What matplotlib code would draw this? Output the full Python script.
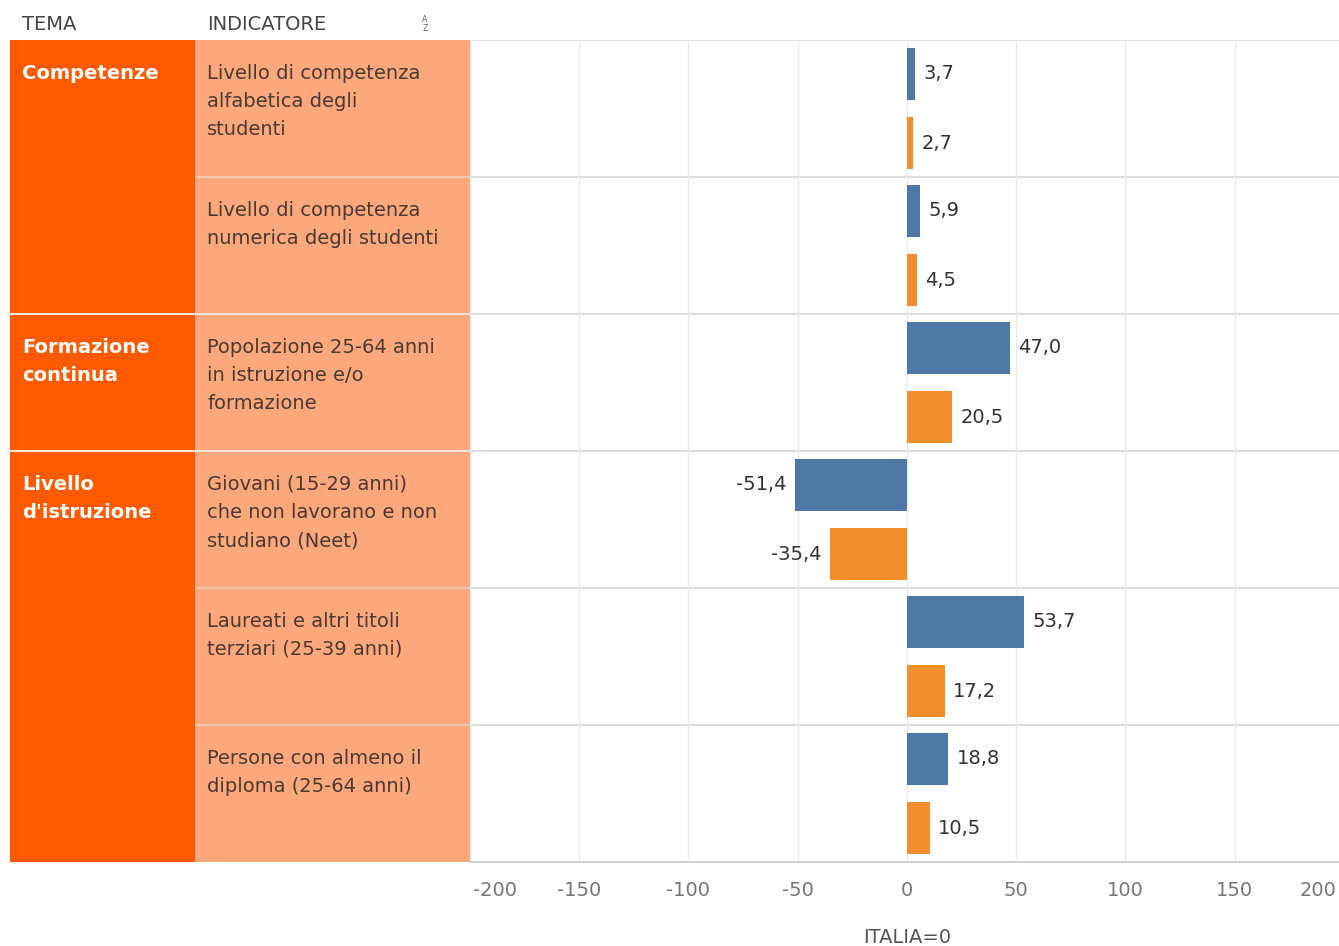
import matplotlib.pyplot as plt
import matplotlib.transforms as mtransforms
import numpy as np

# data
temi = ["Competenze", "Formazione\ncontinua", "Livello\nd'istruzione"]
temi_righe = [2, 1, 3]
indicatori = [
    "Livello di competenza\nalfabetica degli\nstudenti",
    "Livello di competenza\nnumerica degli studenti",
    "Popolazione 25-64 anni\nin istruzione e/o\nformazione",
    "Giovani (15-29 anni)\nche non lavorano e non\nstudiano (Neet)",
    "Laureati e altri titoli\nterziari (25-39 anni)",
    "Persone con almeno il\ndiploma (25-64 anni)",
]
serie_blu = [3.7, 5.9, 47.0, -51.4, 53.7, 18.8]
serie_arancio = [2.7, 4.5, 20.5, -35.4, 17.2, 10.5]
x_ticks = [-200, -150, -100, -50, 0, 50, 100, 150, 200]

BLU = "#4E79A7"
ARANCIO = "#F28E2B"
TEMA_COL = "#FF5A00"
IND_COL = "#FCA77C"
GRIGIO = "#D9D9D9"
FS = 14

W, H = 1339, 946
fig = plt.figure(figsize=(W / 100, H / 100), dpi=100)
plt.rcParams['font.family'] = ['DejaVu Sans']

def px(x0, y0, x1, y1):
    return [x0 / W, 1 - y1 / H, (x1 - x0) / W, (y1 - y0) / H]

n = len(indicatori)
top_off = 0.172

# ---- tabella a sinistra (tema + indicatore)
tab = fig.add_axes(px(10, 40, 470, 862))
tab.set_xlim(0, 460)
tab.set_ylim(n, 0)
tab.axis('off')

start = 0
starts = []
for t, k in zip(temi, temi_righe):
    tab.barh(start, 185, height=k, left=0, align='edge', color=TEMA_COL, lw=0)
    tab.text(12, start + top_off, t, color='white', fontsize=FS, fontweight='bold',
             va='top', ha='left', linespacing=1.62)
    starts.append(start)
    start += k

tab.barh(0, 275, height=n, left=185, align='edge', color=IND_COL, lw=0)
for i, lab in enumerate(indicatori):
    tab.text(197, i + top_off, lab, color='#4a3a30', fontsize=FS, va='top', ha='left',
             linespacing=1.62)
    if i > 0:
        tab.hlines(i, 185, 460, color='#EEC7AE', lw=1.5)
for s in starts[1:]:
    tab.hlines(s, 0, 460, color='#F2E6DC', lw=1.5)

# intestazioni
fig.text(22 / W, 1 - 24 / H, "TEMA", fontsize=FS, color='#444444', va='center')
fig.text(207 / W, 1 - 24 / H, "INDICATORE", fontsize=FS, color='#444444', va='center')
fig.text(425 / W, 1 - 24 / H, "A\nZ", fontsize=5.5, color='#666666', va='center',
         ha='center', linespacing=0.9)

# ---- grafico a barre
ax = fig.add_axes(px(470, 40, 1344, 862))
y = np.arange(n)
bh = 0.38
ax.barh(y + 0.248, serie_blu, height=bh, color=BLU, zorder=3)
ax.barh(y + 0.752, serie_arancio, height=bh, color=ARANCIO, zorder=3)

for yy, vals in [(y + 0.248, serie_blu), (y + 0.752, serie_arancio)]:
    for yi, v in zip(yy, vals):
        lab = f"{v:.1f}".replace('.', ',')
        ax.annotate(lab, (v, yi), xytext=(6 if v >= 0 else -6, 0),
                    textcoords='offset points', ha='left' if v >= 0 else 'right',
                    va='center', fontsize=FS, color='#333333')

ax.set_xlim(-200, 200)
ax.set_ylim(n, 0)
ax.set_xticks(x_ticks)
ax.set_xticklabels([str(t) for t in x_ticks])
ax.set_yticks([])
ax.tick_params(axis='x', length=0, pad=14, labelsize=FS, labelcolor='#777777')
tl = ax.get_xticklabels()
tl[0].set_ha('left')
tl[0].set_transform(tl[0].get_transform() +
                    mtransforms.ScaledTranslation(3 / 100, 0, fig.dpi_scale_trans))
tl[-1].set_ha('right')
tl[-1].set_transform(tl[-1].get_transform() +
                     mtransforms.ScaledTranslation(-7 / 100, 0, fig.dpi_scale_trans))
for side in ['top', 'right', 'left']:
    ax.spines[side].set_visible(False)
ax.grid(axis='x', color='#EBEBEB', lw=1, zorder=0)
for i in range(n):
    ax.axhline(i, color=GRIGIO, lw=1.2, zorder=1)
ax.spines['bottom'].set_color('#C8C8C8')
ax.spines['bottom'].set_linewidth(1.2)
ax.set_xlabel("ITALIA=0", fontsize=FS, color='#555555', labelpad=20)

fig.savefig("out.png", dpi=100)
